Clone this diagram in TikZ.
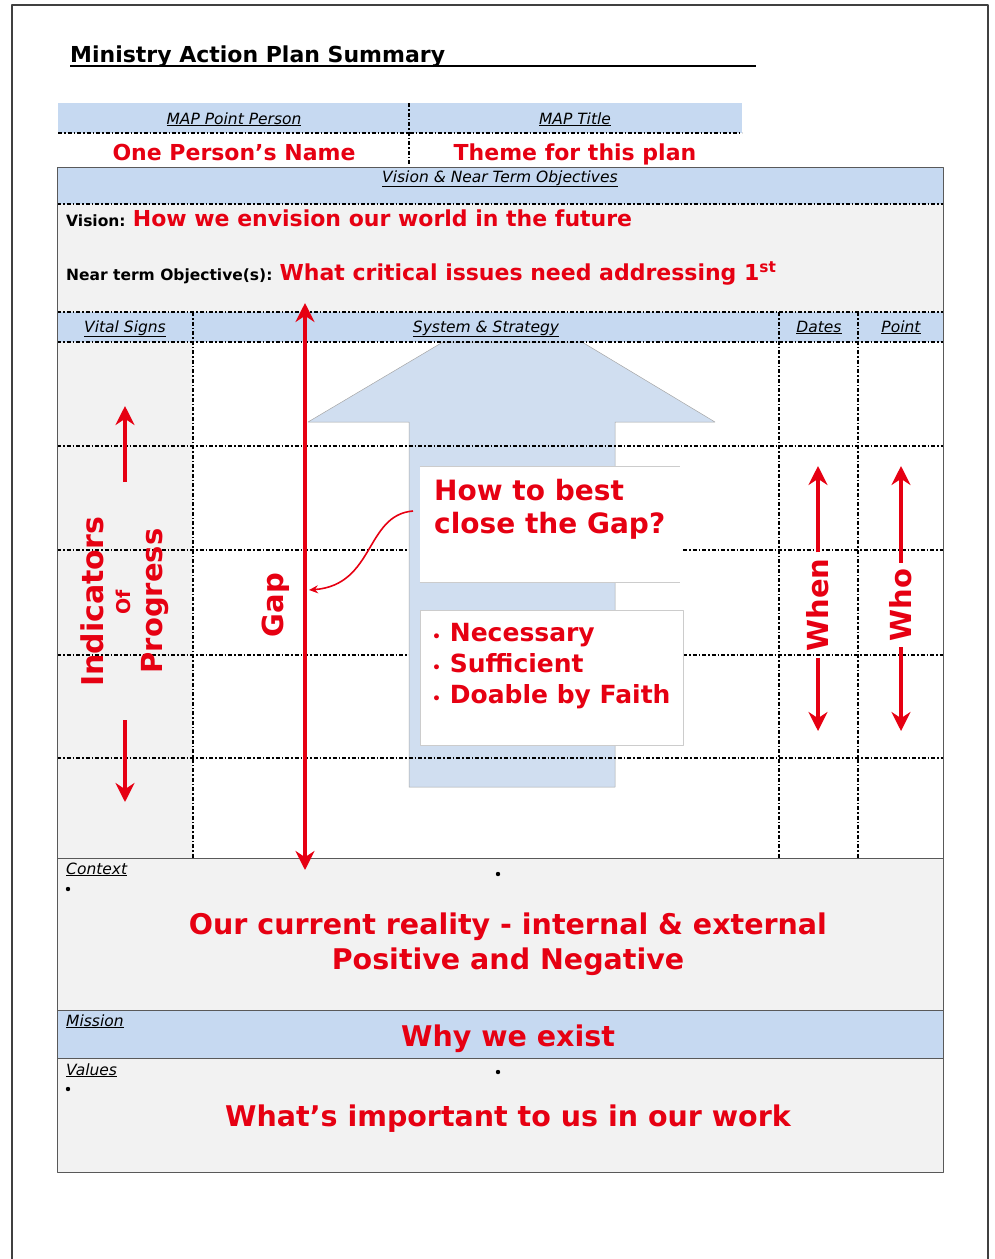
\documentclass[tikz,border=0pt]{standalone}
\usepackage{fontspec}
\setmainfont{DejaVu Sans}
\usetikzlibrary{arrows.meta}
\definecolor{mapred}{RGB}{230,0,18}
\definecolor{mapblue}{RGB}{198,217,241}
\definecolor{mapgray}{RGB}{242,242,242}
\definecolor{arrowblue}{RGB}{208,222,240}
\newcommand{\fs}[1]{\fontsize{#1}{#1}\selectfont}
\tikzset{
  gridline/.style={line width=1.4pt, dash pattern=on 4pt off 2pt on 1.5pt off 2pt},
  frameline/.style={line width=1pt, draw=black!65},
  hdr/.style={font=\fs{15.5}\itshape, anchor=base, inner sep=0pt},
  redtxt/.style={text=mapred, font=\fs{22}\bfseries, anchor=base, inner sep=0pt},
  bigred/.style={text=mapred, font=\fs{28.5}\bfseries, anchor=base, inner sep=0pt},
  boxred/.style={text=mapred, anchor=base west, inner sep=0pt},
  vertred/.style={rotate=90, text=mapred, font=\fs{29}\bfseries, inner sep=0pt},
  redarrow/.style={draw=mapred, line width=3.8pt, -{Stealth[length=19pt,width=19pt]}},
  whitebox/.style={fill=white, draw=black!20, line width=0.6pt, inner sep=0pt},
}
\begin{document}
\begin{tikzpicture}[x=1pt, y=-1pt, line join=round]
  \useasboundingbox (0,0) rectangle (994,1259);
  % page frame
  \draw[line width=2pt, black!75] (12,1259) -- (12,5) -- (988,5) -- (988,1259);
  % title
  \node[anchor=base west, inner sep=0pt, font=\fs{22}\bfseries] (title) at (70,62) {Ministry Action Plan Summary};
  \draw[line width=1.6pt] (70,66) -- (756,66);
  % shaded bands
  \fill[mapblue] (58,103) rectangle (742,133);
  \fill[mapblue] (57,167) rectangle (943,204);
  \fill[mapgray] (57,204) rectangle (943,312);
  \fill[mapblue] (57,312) rectangle (943,342);
  \fill[mapgray] (57,342) rectangle (193,858);
  \fill[mapgray] (57,858) rectangle (943,1010);
  \fill[mapblue] (57,1010) rectangle (943,1058);
  \fill[mapgray] (57,1058) rectangle (943,1172);
  % lines under the block arrow
  \foreach \y in {133} \draw[gridline] (58,\y) -- (742,\y);
  \foreach \y in {550,655} {
    \draw[gridline] (57,\y) -- (409,\y);
    \draw[gridline] (683,\y) -- (943,\y);
  }
  % block arrow
  \path[fill=arrowblue, draw=black!35, line width=0.5pt]
    (443,342) -- (582,342) -- (715,422) -- (615,422) -- (615,787)
    -- (409,787) -- (409,422) -- (308,422) -- cycle;
  % grid
  \foreach \y in {204,312,342,446,758} \draw[gridline] (57,\y) -- (943,\y);
  \draw[gridline] (409,103) -- (409,165);
  \foreach \x in {193,779,858} \draw[gridline] (\x,312) -- (\x,858);
  % frame of the table
  \draw[frameline] (57,167) rectangle (943,1172);
  \foreach \y in {858,1010,1058} \draw[frameline] (57,\y) -- (943,\y);
  % white boxes on the arrow
  \node[fill=white, inner sep=0pt, minimum width=260pt, minimum height=115pt] (close) at (550,524.5) {};
  \draw[black!20, line width=0.8pt] (close.north west) -- (close.north east);
  \draw[black!20, line width=0.8pt] (close.south west) -- (close.south east);
  \node[whitebox, minimum width=263pt, minimum height=135pt] (crit) at (551.5,677.5) {};
  % headers
  \node[hdr] (mapperson) at (234,124) {\underline{MAP Point Person}};
  \node[hdr] (maptitle) at (575,124) {\underline{MAP Title}};
  \node[redtxt] (name) at (234,160) {One Person’s Name};
  \node[redtxt] (theme) at (575,160) {Theme for this plan};
  \node[hdr] (visnear) at (500,182) {\underline{Vision \& Near Term Objectives}};
  \node[anchor=base west, inner sep=0pt] (vision) at (66,226)
    {\fs{15.5}\bfseries Vision: {\color{mapred}\fs{22}How we envision our world in the future}};
  \node[anchor=base west, inner sep=0pt] (near) at (66,280)
    {\fs{15.5}\bfseries Near term Objective(s): {\color{mapred}\fs{22}What critical issues need addressing 1\textsuperscript{st}}};
  \node[hdr] (vital) at (125,332) {\underline{Vital Signs}};
  \node[hdr] (system) at (486,332) {\underline{System \& Strategy}};
  \node[hdr] (dates) at (819,332) {\underline{Dates}};
  \node[hdr] (point) at (901,332) {\underline{Point}};
  % box texts
  \node[boxred, font=\fs{28}\bfseries] (howto) at (434,500) {How to best};
  \node[boxred, font=\fs{28}\bfseries] (closegap) at (434,533) {close the Gap?};
  \foreach \t [count=\i] in {Necessary, Sufficient, Doable by Faith}
    \node[boxred, font=\fs{25}\bfseries] (crit\i) at (432,610+31*\i) {{\fs{14}•} \t};
  % vital signs
  \node[vertred, font=\fs{30}\bfseries] (indic) at (92,602) {Indicators};
  \node[vertred, font=\fs{19}\bfseries] (of) at (123,602) {Of};
  \node[vertred] (progr) at (155,601) {Progress};
  \coordinate (indUpS) at (125,482);
  \coordinate (indUpE) at (125,406);
  \coordinate (indDnS) at (125,720);
  \coordinate (indDnE) at (125,802);
  \draw[redarrow] (indUpS) -- (indUpE);
  \draw[redarrow] (indDnS) -- (indDnE);
  % gap
  \coordinate (gapT) at (305,303);
  \coordinate (gapB) at (305,870);
  \draw[redarrow, {Stealth[length=19pt,width=19pt]}-{Stealth[length=19pt,width=19pt]}] (gapB) -- (gapT);
  \node[vertred] (gap) at (276,605) {Gap};
  \coordinate (curveS) at (413,511);
  \coordinate (curveE) at (309,590);
  \draw[mapred, line width=1.6pt, -{Stealth[length=9pt,width=8pt]}] (curveS) .. controls (365,515) and (375,585) .. (curveE);
  % when / who
  \node[vertred] (when) at (818,605) {When};
  \node[vertred] (who) at (901,605) {Who};
  \draw[redarrow] (when.east) ++(0,-6) -- (818,466);
  \draw[redarrow] (when.west) ++(0,6) -- (818,731);
  \draw[redarrow] (who.east) ++(0,-6) -- (901,466);
  \draw[redarrow] (who.west) ++(0,6) -- (901,731);
  % context / mission / values
  \node[hdr, anchor=base west] (context) at (66,874) {\underline{Context}};
  \node[hdr, anchor=base west] (mission) at (66,1026) {\underline{Mission}};
  \node[hdr, anchor=base west] (values) at (66,1075) {\underline{Values}};
  \foreach \x/\y in {68/889, 498/874, 68/1089, 498/1072} \fill (\x,\y) circle (2.2pt);
  \node[bigred] (reality) at (508,934) {Our current reality - internal \& external};
  \node[bigred] (posneg) at (508,969) {Positive and Negative};
  \node[bigred] (why) at (508,1046) {Why we exist};
  \node[bigred] (important) at (508,1126) {What’s important to us in our work};
\end{tikzpicture}
\end{document}
